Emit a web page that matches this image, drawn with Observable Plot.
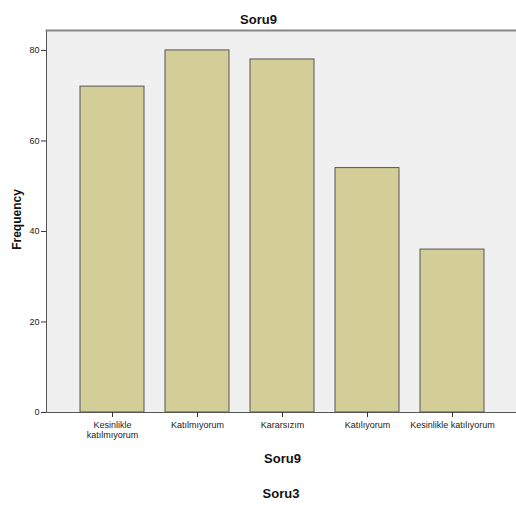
<!DOCTYPE html>
<html>
<head>
<meta charset="utf-8">
<script src="https://cdn.jsdelivr.net/npm/d3@7"></script>
<script src="https://cdn.jsdelivr.net/npm/@observablehq/plot@0.6"></script>
<style>
  body { margin: 0; background: #fff; }
  #chart svg { font-family: "Liberation Sans", Arial, sans-serif; }
</style>
</head>
<body>
<div id="chart"></div>
<script>
const categories = ["Kesinlikle\nkatılmıyorum", "Katılmıyorum", "Kararsızım", "Katılıyorum", "Kesinlikle katılıyorum"];
const frequencies = [72, 80, 78, 54, 36];
const yTicks = [0, 20, 40, 60, 80];
const chartTitle = "Soru9";
const xLabel = "Soru9";
const footLabel = "Soru3";
const yLabel = "Frequency";

const data = categories.map((c, i) => ({category: c, value: frequencies[i]}));

const plot = Plot.plot({
  width: 516,
  height: 505,
  marginLeft: 46,
  marginRight: 0,
  marginTop: 30,
  marginBottom: 93,
  style: {fontFamily: "'Liberation Sans', Arial, sans-serif", fontSize: "9px", background: "#fff"},
  x: {domain: categories, range: [69.5, 494.5], paddingInner: 0.247, paddingOuter: 0.1235, label: null},
  y: {domain: [0, 84.4], label: null},
  marks: [
    Plot.frame({fill: "#f0f0f0", stroke: null}),
    Plot.barY(data, {x: "category", y: "value", fill: "#d3ce97", stroke: "#555", strokeWidth: 1}),
    Plot.frame({anchor: "left", stroke: "#555", strokeWidth: 1}),
    Plot.frame({anchor: "top", stroke: "#888", strokeWidth: 2}),
    Plot.ruleY([0], {stroke: "#555", strokeWidth: 1}),
    Plot.axisY({ticks: yTicks, tickSize: 5, tickPadding: 2, stroke: "#333", fill: "#222", label: null, fontSize: 9}),
    Plot.axisX({tickSize: 5, tickPadding: 4, stroke: "#333", fill: "#222", label: null, fontSize: 9, lineHeight: 1.05}),
    Plot.text([chartTitle], {frameAnchor: "top", lineAnchor: "middle", dx: -23, dy: -11, fontSize: 13, fontWeight: "bold", fill: "#111"}),
    Plot.text([xLabel], {frameAnchor: "bottom", lineAnchor: "middle", dx: 1, dy: 46, fontSize: 13, fontWeight: "bold", fill: "#111"}),
    Plot.text([footLabel], {frameAnchor: "bottom", lineAnchor: "middle", dx: -0.5, dy: 81, fontSize: 13, fontWeight: "bold", fill: "#111"}),
    Plot.text([yLabel], {frameAnchor: "left", textAnchor: "middle", lineAnchor: "middle", dx: -29, dy: -2, rotate: -90, fontSize: 12, fontWeight: "bold", fill: "#111", letterSpacing: 1.2})
  ]
});
document.getElementById("chart").appendChild(plot);
</script>
</body>
</html>
